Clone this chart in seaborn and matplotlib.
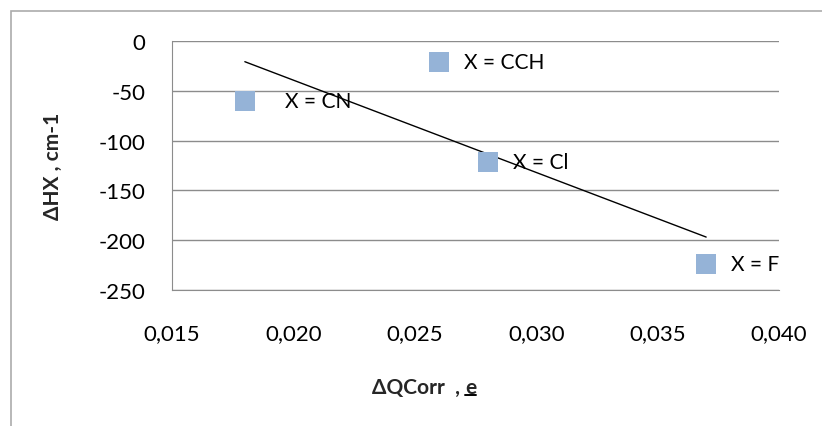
import numpy as np
import pandas as pd
import matplotlib
matplotlib.use("Agg")
import matplotlib.pyplot as plt
import seaborn as sns
from matplotlib.patches import Rectangle
from matplotlib.lines import Line2D

# Charge-transfer correction vs. frequency shift of the H–X stretch
substituent = ["X = CN", "X = CCH", "X = Cl", "X = F"]
dq_corr = [0.018, 0.026, 0.028, 0.037]
d_hx = [-60, -21, -121, -224]

x_ticks = [0.015, 0.020, 0.025, 0.030, 0.035, 0.040]
y_ticks = [0, -50, -100, -150, -200, -250]

df = pd.DataFrame({"dq": dq_corr, "dhx": d_hx, "label": substituent})

sns.set_style("white")
plt.rcParams["font.family"] = ["Lato", "DejaVu Sans"]
FS = 15

W, H = 822, 427
fig = plt.figure(figsize=(W / 100, H / 100), dpi=100)
ax = fig.add_axes([172 / W, 1 - 291 / H, (779 - 172) / W, (291 - 42) / H])

# chart frame
fig.add_artist(Rectangle((11 / W, -0.1), 1.2, 1 - 12 / H + 0.1,
                         transform=fig.transFigure, fill=False,
                         edgecolor="#ababab", linewidth=1.2))

# linear trend line over the data range
sns.regplot(data=df, x="dq", y="dhx", ax=ax, ci=None, scatter=False,
            line_kws=dict(color="black", linewidth=1.0))
sns.scatterplot(data=df, x="dq", y="dhx", ax=ax, marker="s", s=200,
                color="#95B3D7", edgecolor="#95B3D7", linewidth=0, zorder=3)

# point labels to the right of each marker
offsets_px = [40, 25, 25, 25]
for (xv, yv, lab), off in zip(zip(dq_corr, d_hx, substituent), offsets_px):
    ax.annotate(lab, (xv, yv), xytext=(off * 0.72, 0), textcoords="offset points",
                ha="left", va="center", fontsize=FS, color="black", zorder=4)

ax.set_xlim(0.015, 0.040)
ax.set_ylim(-250, 0)
ax.set_xticks(x_ticks)
ax.set_yticks(y_ticks)
ax.set_xticklabels([f"{v:.3f}".replace(".", ",") for v in x_ticks])
ax.set_yticklabels([str(v) for v in y_ticks])
ax.tick_params(axis="both", length=0, labelsize=16, colors="black")
ax.tick_params(axis="x", pad=24)
ax.tick_params(axis="y", pad=19)

ax.yaxis.grid(True, color="#8c8c8c", linewidth=1.0)
ax.xaxis.grid(False)
for side in ["top", "right"]:
    ax.spines[side].set_visible(False)
ax.spines["left"].set_color("#8c8c8c")
ax.spines["bottom"].set_color("#8c8c8c")
ax.set_axisbelow(True)

ax.set_ylabel("ΔHX , cm-1", fontsize=FS, fontweight="bold")
ax.yaxis.set_label_coords((63 - 172) / 607, 0.5)
ax.set_xlabel("")

# x axis title with underlined unit
t1 = fig.text(465 / W, 1 - 388 / H, "ΔQCorr  , ", fontsize=FS, fontweight="bold",
              ha="right", va="center")
t2 = fig.text(465 / W, 1 - 388 / H, "e", fontsize=FS, fontweight="bold",
              ha="left", va="center")
fig.canvas.draw()
bb = t2.get_window_extent()
uy = bb.y0 + 2
fig.add_artist(Line2D([bb.x0 / W, bb.x1 / W], [uy / H, uy / H],
                      transform=fig.transFigure, color="black", linewidth=1.4))

fig.savefig("out.png", dpi=100)
